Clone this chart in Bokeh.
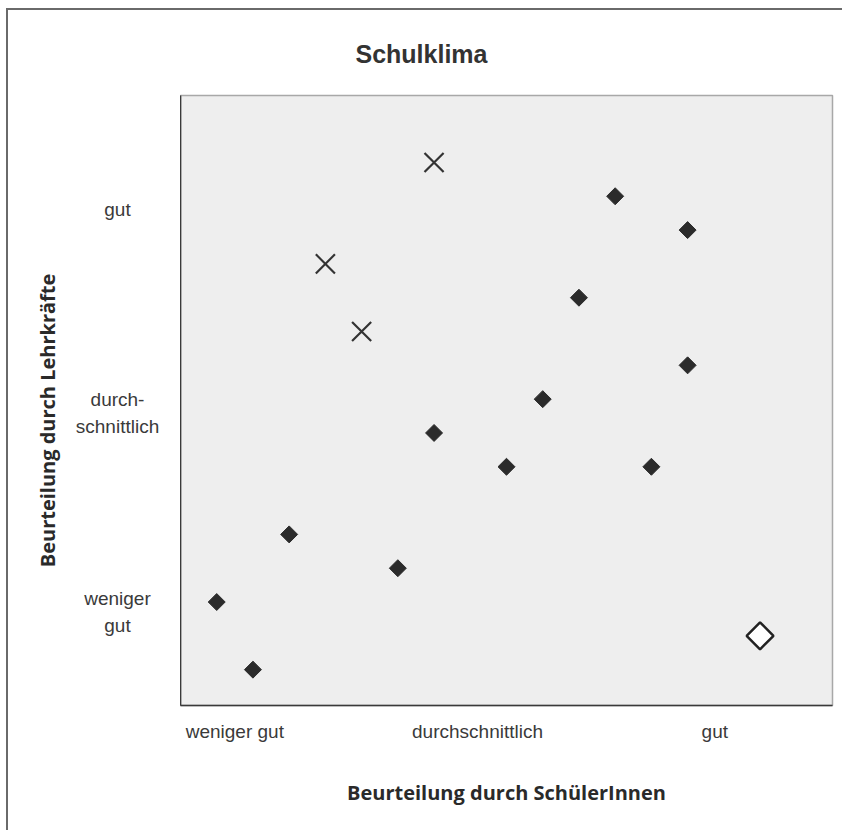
import math
from bokeh.plotting import figure
from bokeh.layouts import row
from bokeh.models import FixedTicker, Title
from bokeh.core.properties import value
from bokeh.embed import file_html
from bokeh.resources import INLINE

# ---- data (grid positions) ----
schueler_x = [12, 14, 11, 14, 10, 7, 9, 13, 3, 6, 1, 2]
lehrer_y = [15, 14, 12, 10, 9, 8, 7, 7, 5, 4, 3, 1]
cross_x = [7, 4, 5]
cross_y = [16, 13, 11]
open_x = [16]
open_y = [2]

x_ticks = [1.5, 8.2, 14.75]
x_tick_labels = ["weniger gut", "durchschnittlich", "gut"]
y_ticks = [2.7, 8.6, 14.6]
y_tick_labels = ["weniger\ngut", "durch-\nschnittlich", "gut"]
y_title = "Beurteilung durch Lehrkräfte"
x_title = "Beurteilung durch SchülerInnen"

TICK_FONT = "Liberation Sans"
BOLD_FONT = "Open Sans"

# ---- main plot ----
p = figure(
    width=662, height=820,
    x_range=(0, 18), y_range=(-0.06, 17.98),
    output_backend="svg", toolbar_location=None,
    min_border_left=0, min_border_right=10,
    min_border_top=85, min_border_bottom=125,
    background_fill_color="#eeeeee", border_fill_color="white",
)
p.title = Title(text="Schulklima", align="left", offset=175, standoff=55,
                text_font=TICK_FONT, text_font_size="25px",
                text_font_style="bold", text_color="#333333")
p.grid.visible = False
p.outline_line_color = "#a8a8a8"
p.outline_line_width = 1.5

for ax in (p.xaxis[0], p.yaxis[0]):
    ax.major_tick_line_color = None
    ax.minor_tick_line_color = None
    ax.major_tick_out = 0
    ax.minor_tick_out = 0
    ax.axis_line_color = "#3a3a3a"
    ax.axis_line_width = 1.6
    ax.major_label_text_font = TICK_FONT
    ax.major_label_text_font_size = "19px"
    ax.major_label_text_color = "#3a3a3a"
    ax.axis_label_text_font = BOLD_FONT
    ax.axis_label_text_font_size = "20px"
    ax.axis_label_text_font_style = "bold"
    ax.axis_label_text_color = "#2a2a2a"

p.xaxis.ticker = FixedTicker(ticks=x_ticks)
p.xaxis.major_label_overrides = dict(zip(x_ticks, x_tick_labels))
p.xaxis.major_label_standoff = 15
p.xaxis.axis_label = x_title
p.xaxis.axis_label_standoff = 34

p.yaxis.ticker = FixedTicker(ticks=[])
p.yaxis.major_label_standoff = 0

p.scatter(schueler_x, lehrer_y, marker="square", size=12, angle=math.pi / 4,
          fill_color="#2b2b2b", line_color="#2b2b2b", line_width=1)
p.scatter(cross_x, cross_y, marker="x", size=27, line_color="#333333", line_width=2.2)
p.scatter(open_x, open_y, marker="square", size=19, angle=math.pi / 4,
          fill_color="white", line_color="#222222", line_width=2.5)

# ---- left strip carrying the centred y labels and the y title ----
left = figure(
    width=172, height=820,
    x_range=(0, 172), y_range=p.y_range,
    x_axis_type=None, y_axis_type=None,
    output_backend="svg", toolbar_location=None,
    min_border_left=0, min_border_right=0,
    min_border_top=85, min_border_bottom=125,
    background_fill_color="white", border_fill_color="white",
)
left.outline_line_color = None
left.grid.visible = False
left.text(x=109, y=y_ticks, text=y_tick_labels,
          text_align="center", text_baseline="middle",
          text_font=value(TICK_FONT), text_font_size=value("19px"),
          text_color="#3a3a3a", text_line_height=1.3)
left.text(x=39, y=8.37, text=[y_title], angle=math.pi / 2,
          text_align="center", text_baseline="middle",
          text_font=value(BOLD_FONT), text_font_size=value("20px"),
          text_font_style="bold", text_color="#2a2a2a")

layout = row(left, p)
layout.styles = {"margin-left": "6px", "margin-top": "8px",
                 "border-left": "2px solid #6a6a6a", "border-top": "2px solid #6a6a6a"}

open("out.html", "w").write(file_html(layout, INLINE))
